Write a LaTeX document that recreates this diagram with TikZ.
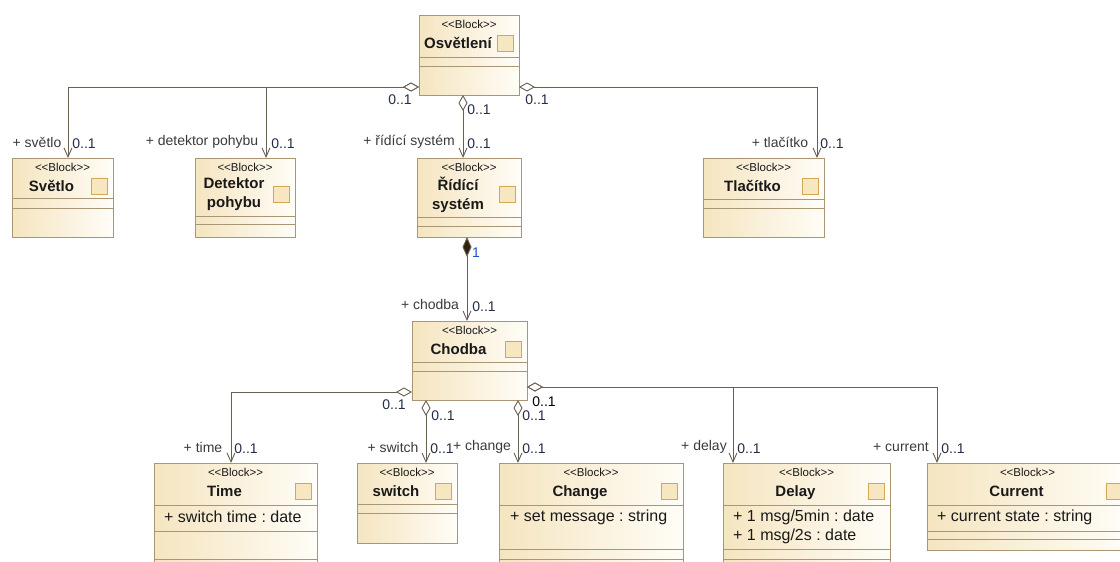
\documentclass[tikz,border=0pt]{standalone}
\usepackage{fontspec}
\setmainfont{Liberation Sans}
\usetikzlibrary{arrows.meta,fit,shadows}
\definecolor{bfill}{RGB}{245,229,192}
\definecolor{bfill2}{RGB}{255,253,247}
\definecolor{bdraw}{RGB}{168,150,116}
\definecolor{lc}{RGB}{105,96,84}
\definecolor{icfill}{RGB}{247,231,192}
\definecolor{icdraw}{RGB}{212,168,82}
\definecolor{tx}{RGB}{25,25,25}
\definecolor{mult}{RGB}{35,45,70}
\definecolor{one}{RGB}{30,80,200}
\frenchspacing

\newcommand\umlblock[8]{% name, x1, y1, x2, y2, title, name y offset, name anchor
  \node[blockshape, fit={(#2,#3) (#4,#5)}] (#1) {};
  \node[stereo] (#1-st) at ({(#2+#4)/2},{#3+9}) {<\kern0pt<Block>\kern0pt>};
  \node[bname, anchor=#8] (#1-nm) at ({(#2+#4-22)/2},{#3+#7}) {#6};
  \node[icon] (#1-ic) at ({#4-13.5},{#3+28}) {};
}
\newcommand\umlblockii[7]{% two-line name variant
  \node[blockshape, fit={(#2,#3) (#4,#5)}] (#1) {};
  \node[stereo] (#1-st) at ({(#2+#4)/2},{#3+9}) {<\kern0pt<Block>\kern0pt>};
  \node[bname] (#1-nm) at ({(#2+#4-22)/2},{#3+#7}) {#6};
  \node[icon] (#1-ic) at ({#4-13.5},{#3+#7}) {};
}
\newcommand\sepline[3]{\draw[sepstyle] (#1,#3) -- (#2,#3);}

\begin{document}
\begin{tikzpicture}[x=1pt,y=-1pt,
  blockshape/.style={draw=bdraw, line width=1pt, inner sep=0pt, left color=bfill, right color=bfill2,
    drop shadow={shadow xshift=1.2pt, shadow yshift=-1.2pt, opacity=0.25, fill=black!60}},
  sepstyle/.style={draw=bdraw, line width=1pt},
  stereo/.style={inner sep=0pt, text=tx, font=\fontsize{11.5}{12}\selectfont},
  bname/.style={inner sep=0pt, text=tx, align=center, font=\fontsize{15}{19}\selectfont\bfseries},
  icon/.style={draw=icdraw, fill=icfill, line width=1pt, minimum size=16pt, inner sep=0pt},
  attr/.style={inner sep=0pt, anchor=west, text=tx, font=\fontsize{16}{19.5}\selectfont},
  role/.style={inner sep=0pt, text=tx!85, font=\fontsize{14}{16}\selectfont},
  mlt/.style={inner sep=0pt, text=mult, font=\fontsize{14}{16}\selectfont},
  agg/.style={draw=lc, line width=0.9pt,
    {Diamond[fill=white, length=16pt, width=9pt]}-{Straight Barb[length=9pt, width=8pt]}},
  comp/.style={draw=lc, line width=0.9pt,
    {Diamond[fill=black!75!brown, length=20pt, width=9pt]}-{Straight Barb[length=9pt, width=8pt]}}
]
\clip (0,0) rectangle (1120,562);
\fill[white] (0,0) rectangle (1120,562);

% ---------- blocks ----------
\umlblock{osv}{419}{15}{519}{95}{Osvětlení}{33.5}{base}
\sepline{419}{519}{57}\sepline{419}{519}{66}

\umlblock{svetlo}{12}{158}{113}{237}{Světlo}{33.5}{base}
\sepline{12}{113}{198}\sepline{12}{113}{208}

\umlblockii{detektor}{195}{158}{295}{237}{Detektor\\pohybu}{36.5}
\sepline{195}{295}{216}\sepline{195}{295}{224}

\umlblockii{ridici}{417}{158}{521}{237}{Řídící\\systém}{36.5}
\sepline{417}{521}{217}\sepline{417}{521}{226}

\umlblock{tlac}{703}{158}{824}{237}{Tlačítko}{33.5}{base}
\sepline{703}{824}{199}\sepline{703}{824}{208}

\umlblock{chodba}{412}{321}{527}{400}{Chodba}{33.5}{base}
\sepline{412}{527}{362}\sepline{412}{527}{371}

\umlblock{time}{154}{463}{317}{580}{Time}{33.5}{base}
\sepline{154}{317}{505}\sepline{154}{317}{531}\sepline{154}{317}{559}
\node[attr] (time-a1) at (164,517) {+ switch time : date};

\umlblock{switch}{357}{463}{457}{543}{switch}{33.5}{base}
\sepline{357}{457}{504}\sepline{357}{457}{513}

\umlblock{change}{499}{463}{683}{580}{Change}{33.5}{base}
\sepline{499}{683}{505}\sepline{499}{683}{549}\sepline{499}{683}{559}
\node[attr] (change-a1) at (510,517) {+ set message : string};

\umlblock{delay}{723}{463}{890}{580}{Delay}{33.5}{base}
\sepline{723}{890}{505}\sepline{723}{890}{549}\sepline{723}{890}{559}
\node[attr] (delay-a1) at (733,517) {+ 1 msg/5min : date};
\node[attr] (delay-a2) at (733,536) {+ 1 msg/2s : date};

\umlblock{current}{927}{463}{1128}{550}{Current}{33.5}{base}
\sepline{927}{1128}{505}\sepline{927}{1128}{531}\sepline{927}{1128}{539}
\node[attr] (current-a1) at (937,517) {+ current state : string};

% ---------- connector end points ----------
\coordinate (osvL) at (419,87);
\coordinate (osvR) at (519,87);
\coordinate (osvB) at (463,95);
\coordinate (svT) at (68,158);
\coordinate (deT) at (266,158);
\coordinate (riT) at (463,158);
\coordinate (tlT) at (817,158);
\coordinate (riB) at (467,237);
\coordinate (chT) at (467,321);
\coordinate (chL) at (412,392);
\coordinate (chR) at (527,387);
\coordinate (chB1) at (426,400);
\coordinate (chB2) at (518,400);
\coordinate (tiT) at (231,463);
\coordinate (swT) at (426,463);
\coordinate (cgT) at (518,463);
\coordinate (dlT) at (733,463);
\coordinate (cuT) at (937,463);

% ---------- connectors ----------
\draw[agg] (osvL) -| (svT);
\draw[agg] (osvL) -| (deT);
\draw[agg] (osvB) -- (riT);
\draw[agg] (osvR) -| (tlT);
\draw[comp] (riB) -- (chT);
\draw[agg] (chL) -| (tiT);
\draw[agg] (chB1) -- (swT);
\draw[agg] (chB2) -- (cgT);
\draw[agg] (chR) -| (dlT);
\draw[agg] (chR) -| (cuT);

% ---------- labels ----------
\node[mlt] (m-osvL) at (400,100) {0..1};
\node[mlt] (m-osvR) at (537,100) {0..1};
\node[mlt] (m-osvB) at (479,110) {0..1};
\node[role] (r-sv) at (37,142) {+ světlo};
\node[mlt] (m-sv) at (84,144) {0..1};
\node[role] (r-de) at (202,142) {+ detektor pohybu};
\node[mlt] (m-de) at (283,144) {0..1};
\node[role] (r-ri) at (409,142) {+ řídící systém};
\node[mlt] (m-ri) at (479,144) {0..1};
\node[role] (r-tl) at (780,142) {+ tlačítko};
\node[mlt] (m-tl) at (832,144) {0..1};
\node[mlt, text=one] (m-comp) at (476,253) {1};
\node[role] (r-ch) at (430,304) {+ chodba};
\node[mlt] (m-ch) at (484,307) {0..1};
\node[mlt] (m-chL) at (394,405) {0..1};
\node[mlt] (m-chB1) at (443,416) {0..1};
\node[mlt] (m-chB2) at (534,416) {0..1};
\node[mlt, text=black] (m-chR) at (544,402) {0..1};
\node[role] (r-ti) at (203,447) {+ time};
\node[mlt] (m-ti) at (246,449) {0..1};
\node[role] (r-sw) at (393,447) {+ switch};
\node[mlt] (m-sw) at (442,449) {0..1};
\node[role] (r-cg) at (482,447) {+ change};
\node[mlt] (m-cg) at (534,449) {0..1};
\node[role] (r-dl) at (704,447) {+ delay};
\node[mlt] (m-dl) at (749,449) {0..1};
\node[role] (r-cu) at (901,447) {+ current};
\node[mlt] (m-cu) at (953,449) {0..1};
\end{tikzpicture}
\end{document}
